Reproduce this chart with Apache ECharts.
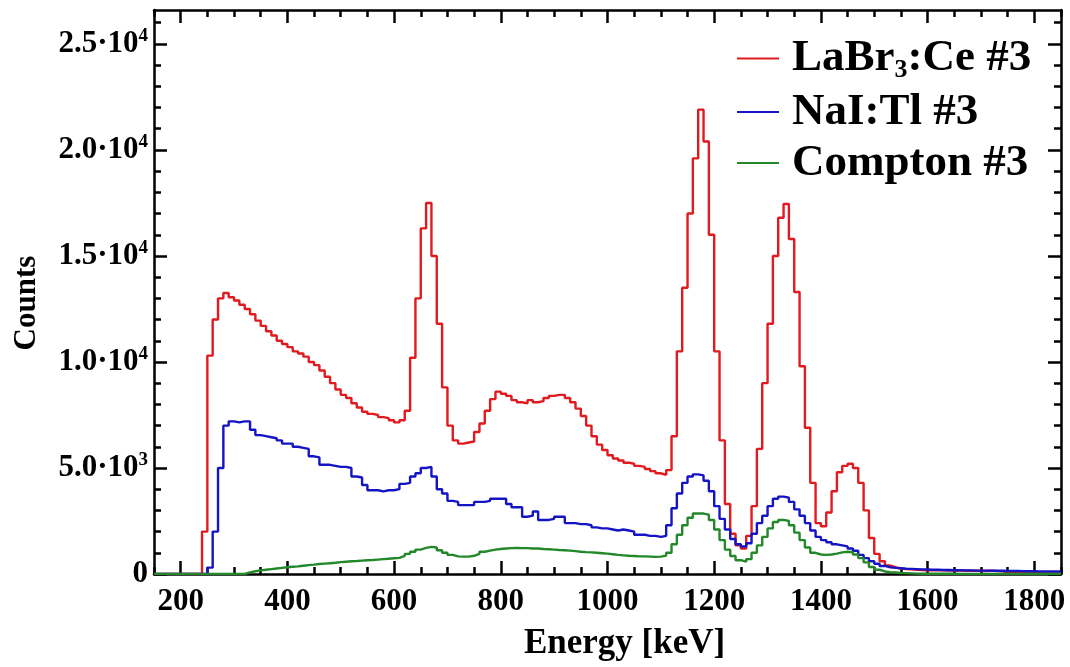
<!DOCTYPE html>
<html>
<head>
<meta charset="utf-8">
<script src="https://cdn.jsdelivr.net/npm/echarts@6/dist/echarts.min.js"></script>
<style>
html,body{margin:0;padding:0;background:#ffffff;}
#chart{width:1070px;height:667px;}
</style>
</head>
<body>
<div id="chart"></div>
<script>
// ---------- DATA ----------
const binStart = 150;      // keV, left edge of first bin
const binWidth = 10;       // keV
const seriesNames = ['LaBr3:Ce #3', 'NaI:Tl #3', 'Compton #3'];

// counts per 10 keV bin, bins 150..1840 keV (left edges)
const labrCounts = [
  0,0,0,0,0,0,0,0,0,2000,
  10300,12000,13000,13250,13050,12900,12700,12500,12250,11950,
  11700,11450,11250,11000,10850,10700,10500,10400,10250,10000,
  9850,9600,9300,9000,8700,8450,8300,8050,7850,7650,
  7550,7500,7400,7350,7250,7150,7250,7700,10200,13000,
  16300,17500,15000,11800,8800,7000,6300,6150,6200,6250,
  6700,7100,7700,8250,8600,8500,8400,8200,8100,8050,
  8200,8100,8150,8300,8400,8450,8450,8300,8100,7800,
  7450,7000,6500,6100,5850,5600,5450,5350,5250,5200,
  5100,5050,4950,4850,4750,4680,4900,6500,10500,13500,
  17000,19600,21900,20400,16000,10500,6300,3300,1900,1350,
  1200,1800,3200,5900,9000,11800,15000,16800,17450,15800,
  13300,9800,6900,4300,2400,2250,2900,3900,4800,5100,
  5200,5000,4300,3000,1700,950,600,400,320,260,
  230,220,200,190,180,180,170,170,160,160,
  170,150,160,150,150,140,160,140,130,90,
  60,50,50,40,40,40,30,30,30,30
];
const naiCounts = [
  0,0,0,0,0,0,0,0,0,0,
  300,2000,5000,7000,7200,7150,7200,7200,6800,6550,
  6500,6450,6400,6300,6150,6150,6000,5950,5900,5550,
  5500,5150,5150,5100,5050,5050,5000,4600,4550,4200,
  3950,3950,3900,3950,3950,4000,4250,4300,4600,4750,
  5000,5050,4600,4000,3800,3450,3400,3250,3250,3250,
  3400,3400,3450,3550,3550,3550,3300,3150,3150,2700,
  2750,2950,2550,2550,2600,2700,2700,2400,2400,2350,
  2350,2300,2200,2150,2150,2100,2050,2100,2050,2000,
  1850,1850,1800,1800,1750,1800,2300,3100,3800,4300,
  4600,4700,4650,4400,3900,3200,2600,2100,1650,1400,
  1300,1450,1900,2400,2750,3200,3550,3650,3600,3400,
  3050,2750,2400,2050,1750,1600,1500,1400,1350,1300,
  1200,1100,900,750,600,480,380,320,290,270,
  250,240,230,220,210,200,200,190,190,180,
  180,170,170,160,160,160,150,150,150,140,
  140,140,130,130,130,120,120,120,120,120
];
const comptonCounts = [
  0,0,0,0,0,0,0,0,0,0,
  0,0,0,0,0,0,0,80,130,170,
  200,230,260,290,320,340,360,390,420,440,
  470,490,510,530,560,580,600,610,630,650,
  660,680,700,720,740,760,850,950,1050,1150,
  1230,1280,1250,1120,1000,900,830,820,820,860,
  950,1050,1100,1150,1180,1200,1220,1230,1220,1220,
  1200,1200,1180,1170,1150,1130,1120,1100,1080,1050,
  1030,1020,1000,980,960,930,900,880,860,850,
  830,830,820,810,820,870,1000,1400,1850,2300,
  2650,2850,2850,2800,2550,2100,1600,1150,850,650,
  580,700,1000,1350,1750,2150,2450,2550,2500,2300,
  1950,1600,1250,1000,920,900,920,960,1020,1050,
  1030,920,750,550,330,200,120,90,70,50,
  40,30,20,10,10,10,10,10,10,10,
  0,0,0,0,0,0,0,0,0,0,
  0,0,0,0,0,0,0,0,0,0
];

// axis ticks and labels
const xMajorTicks = [200,400,600,800,1000,1200,1400,1600,1800];
const xTickLabels = ['200','400','600','800','1000','1200','1400','1600','1800'];
const xMinorTicks = [150,200,250,300,350,400,450,500,550,600,650,700,750,800,850,900,950,1000,1050,1100,1150,1200,1250,1300,1350,1400,1450,1500,1550,1600,1650,1700,1750,1800,1850];
const yMajorTicks = [0,5000,10000,15000,20000,25000];
const yMinorTicks = [0,1000,2000,3000,4000,5000,6000,7000,8000,9000,10000,11000,12000,13000,14000,15000,16000,17000,18000,19000,20000,21000,22000,23000,24000,25000,26000];
const yTickMantissa = ['0','5.0·10','1.0·10','1.5·10','2.0·10','2.5·10'];
const yTickExponent = ['','3','4','4','4','4'];

// ---------- CHART ----------
const FONT = '"Liberation Serif","DejaVu Serif",serif';
const colors = ['#e01a1e','#1414c4','#22882a'];

function toSteps(counts){
  const pts = counts.map((v,i)=>[binStart + i*binWidth, v]);
  pts.push([binStart + counts.length*binWidth, counts[counts.length-1]]);
  return pts;
}

const X_MIN = 150, X_MAX = 1850, Y_MIN = 0, Y_MAX = 26600;
function blk(){ return {color:'#000', width:2.5}; }

function xAx(pos, ticks, len, showLine){
  return {
    type:'value', position:pos, min:X_MIN, max:X_MAX,
    axisLine:{show:showLine, onZero:false, lineStyle:blk()},
    axisTick:{show:true, inside:true, length:len, customValues:ticks, lineStyle:blk()},
    axisLabel:{show:false}, splitLine:{show:false}
  };
}
function yAx(pos, ticks, len, showLine){
  return {
    type:'value', position:pos, min:Y_MIN, max:Y_MAX,
    axisLine:{show:showLine, onZero:false, lineStyle:blk()},
    axisTick:{show:true, inside:true, length:len, customValues:ticks, lineStyle:blk()},
    axisLabel:{show:false}, splitLine:{show:false}
  };
}

const xMain = xAx('bottom', xMinorTicks, 7, true);
xMain.axisLabel = {
  show:true, customValues:xMajorTicks, margin:12,
  formatter:function(v){ const i = xMajorTicks.indexOf(v); return i < 0 ? '' : xTickLabels[i]; },
  fontFamily:FONT, fontWeight:'bold', fontSize:31, color:'#000'
};
xMain.name = 'Energy [keV]';
xMain.nameLocation = 'middle';
xMain.nameGap = 52;
xMain.nameTextStyle = {fontFamily:FONT, fontWeight:'bold', fontSize:35, color:'#000', padding:[0,0,0,34]};

const yMain = yAx('left', yMinorTicks, 7, true);
yMain.axisLabel = {
  show:true, customValues:yMajorTicks, margin:6,
  formatter: function(v){
    const i = yMajorTicks.indexOf(v);
    if (i < 0) return '';
    return yTickExponent[i] ? '{m|' + yTickMantissa[i] + '}{e|' + yTickExponent[i] + '}' : '{m|' + yTickMantissa[i] + '}';
  },
  rich:{
    m:{fontFamily:FONT, fontWeight:'bold', fontSize:31, color:'#000', lineHeight:34},
    e:{fontFamily:FONT, fontWeight:'bold', fontSize:19, color:'#000', lineHeight:19, verticalAlign:'top'}
  }
};
yMain.name = 'Counts';
yMain.nameLocation = 'middle';
yMain.nameGap = 112;
yMain.nameTextStyle = {fontFamily:FONT, fontWeight:'bold', fontSize:31, color:'#000', padding:[0,22,0,0]};

const option = {
  backgroundColor:'#ffffff',
  animation:false,
  color:colors,
  grid:{left:154, right:9, top:10, bottom:93, containLabel:false},
  xAxis:[
    xMain,
    xAx('bottom', xMajorTicks, 13, false),
    xAx('top', xMinorTicks, 7, true),
    xAx('top', xMajorTicks, 13, false)
  ],
  yAxis:[
    yMain,
    yAx('left', yMajorTicks, 13, false),
    yAx('right', yMinorTicks, 7, true),
    yAx('right', yMajorTicks, 13, false)
  ],
  legend:{
    orient:'vertical', left:732, top:31,
    icon:'rect', itemWidth:42, itemHeight:2, itemGap:6,
    selectedMode:false,
    data:seriesNames,
    formatter:function(name){
      if (name === 'LaBr3:Ce #3') return '{t|LaBr}{s|3}{t|:Ce #3}';
      return '{t|' + name + '}';
    },
    textStyle:{
      padding:[0,0,0,8],
      rich:{
        t:{fontFamily:FONT, fontWeight:'bold', fontSize:45, color:'#000', lineHeight:50},
        s:{fontFamily:FONT, fontWeight:'bold', fontSize:26, color:'#000', lineHeight:34, verticalAlign:'bottom'}
      }
    }
  },
  series:[
    {name:seriesNames[0], data:toSteps(labrCounts)},
    {name:seriesNames[1], data:toSteps(naiCounts)},
    {name:seriesNames[2], data:toSteps(comptonCounts)}
  ].map((s,i)=>Object.assign({
    type:'line', step:'end', xAxisIndex:0, yAxisIndex:0,
    showSymbol:false, symbol:'none', clip:true,
    lineStyle:{width:2.4, color:colors[i]}, itemStyle:{color:colors[i]}
  }, s))
};

const chart = echarts.init(document.getElementById('chart'), null, {renderer:'canvas'});
chart.setOption(option);
</script>
</body>
</html>
